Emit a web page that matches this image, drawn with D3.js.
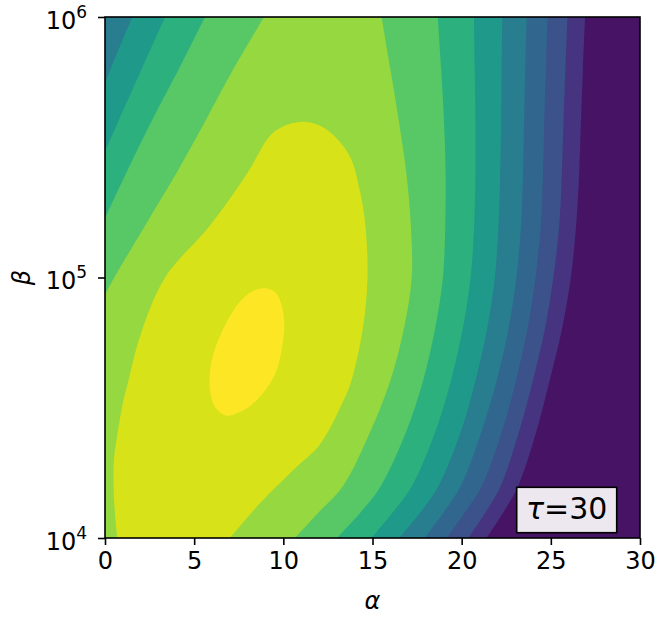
<!DOCTYPE html>
<html lang="en">

<head>
  <meta charset="UTF-8">
  <script src="https://cdn.jsdelivr.net/npm/d3@7"></script>
  <title>alpha / beta contour, tau=30</title>
  <style>
    body {
      margin: 0;
      background: #fff;
    }

    text {
      font-family: "DejaVu Sans", sans-serif;
      fill: #000;
    }
  </style>
</head>

<body>
  <div id="chart"></div>

  <script>
    /*------------------------- data -------------------------*/
    // rows (log10 beta) at which the right-hand contour lines were read
    const logBetaRows = [6.0, 5.8, 5.6, 5.4, 5.2, 5.0, 4.8, 4.6, 4.4, 4.2, 4.1, 4.0];

    // alpha of contour lines 1..8 on the right side, one value per row above
    const rightLines = [
      [26.92, 26.80, 26.69, 26.59, 26.42, 26.12, 25.62, 24.92, 24.15, 23.17, 22.35, 21.40],
      [25.93, 25.82, 25.71, 25.62, 25.47, 25.14, 24.66, 23.98, 23.18, 22.19, 21.35, 20.37],
      [24.82, 24.72, 24.63, 24.56, 24.44, 24.14, 23.68, 23.03, 22.22, 21.13, 20.20, 19.16],
      [23.65, 23.57, 23.50, 23.44, 23.33, 23.07, 22.62, 21.95, 21.07, 19.95, 19.00, 17.93],
      [22.28, 22.24, 22.21, 22.16, 22.06, 21.86, 21.42, 20.76, 19.91, 18.70, 17.70, 16.50],
      [20.69, 20.73, 20.77, 20.77, 20.70, 20.50, 20.05, 19.38, 18.48, 17.21, 16.15, 14.93],
      [18.66, 18.85, 19.01, 19.10, 19.08, 18.95, 18.50, 17.82, 16.84, 15.47, 14.35, 13.00],
      [15.51, 16.00, 16.48, 16.90, 17.15, 17.20, 16.75, 15.98, 14.82, 13.35, 12.00, 10.65]
    ];

    // contour lines 5..8 on the upper left, [alpha, log10 beta] from top edge to left edge
    const leftLines = [
      [[1.53, 6.0], [0.31, 5.8], [0, 5.745]],
      [[3.37, 6.0], [2.06, 5.8], [0.75, 5.6], [0, 5.485]],
      [[5.61, 6.0], [4.14, 5.8], [2.61, 5.6], [1.18, 5.4], [0, 5.227]],
      [[8.92, 6.0], [7.20, 5.8], [5.62, 5.6], [4.00, 5.4], [2.25, 5.2], [0.52, 5.0], [0, 4.935]]
    ];

    // contour line 9, [alpha, log10 beta], open along the bottom edge
    const line9 = [
      [0.69, 4.0], [0.55, 4.1], [0.48, 4.2], [0.50, 4.3], [0.70, 4.4], [1.00, 4.517],
      [1.30, 4.6], [1.96, 4.773], [3.37, 5.0], [5.89, 5.2], [7.98, 5.4], [9.07, 5.528],
      [9.63, 5.566], [10.47, 5.592], [11.22, 5.598], [11.96, 5.585], [12.80, 5.547],
      [13.74, 5.464], [14.30, 5.33], [14.60, 5.2], [14.72, 5.0], [14.45, 4.8], [13.80, 4.6],
      [13.30, 4.517], [12.06, 4.36], [10.56, 4.261], [8.69, 4.133], [7.0, 4.0]
    ];

    // contour line 10, closed
    const line10 = [
      [8.97, 4.959], [9.60, 4.94], [9.95, 4.88], [10.05, 4.82], [9.95, 4.74], [9.60, 4.64],
      [9.07, 4.575], [8.20, 4.51], [7.48, 4.482], [6.80, 4.47], [6.20, 4.50], [5.90, 4.56],
      [5.88, 4.63], [6.05, 4.70], [6.45, 4.775], [6.95, 4.845], [7.60, 4.91], [8.30, 4.948]
    ];

    // viridis position of each band, lowest band first
    const bandColorT = [0.05, 0.15, 0.25, 0.33, 0.42, 0.54, 0.64, 0.74, 0.84, 0.94, 1.0];

    const xTicks = [0, 5, 10, 15, 20, 25, 30];
    const yTicks = [1e4, 1e5, 1e6];
    const yTickExponents = ["4", "5", "6"];
    const tauText = "=30";

    /*------------------------ layout ------------------------*/
    const width = 665;
    const height = 620;
    const plot = { left: 105, right: 640, top: 17, bottom: 538 };

    const x = d3.scaleLinear()
      .domain([0, 30])
      .range([plot.left, plot.right]);
    const y = d3.scaleLog()
      .domain([1e4, 1e6])
      .range([plot.bottom, plot.top]);

    const svg = d3.select("#chart").append("svg")
      .attr("width", width)
      .attr("height", height);

    /*-------------------- contour regions -------------------*/
    const pt = d => [x(d[0]), y(Math.pow(10, d[1]))];
    const smooth = d3.line().curve(d3.curveCatmullRom.alpha(0.5));
    const smoothClosed = d3.line().curve(d3.curveCatmullRomClosed.alpha(0.5));
    const asLineTo = s => s.replace(/^M/, "L");

    // region at or above one level: optional upper-left line, left edge, bottom, right line, top
    const regionPath = (leftPts, rightPts) => {
      let d = leftPts ? smooth(leftPts.map(pt)) : `M${x(0)},${y(1e6)}`;
      d += `L${x(0)},${y(1e4)}`;
      d += asLineTo(smooth(rightPts.slice().reverse().map(pt)));
      return d + "Z";
    };

    const regions = rightLines.map((alphas, i) => {
      const rightPts = alphas.map((a, r) => [a, logBetaRows[r]]);
      const leftPts = i >= 4 ? leftLines[i - 4] : null;
      return regionPath(leftPts, rightPts);
    });
    regions.push(smooth(line9.map(pt)) + "Z");
    regions.push(smoothClosed(line10.map(pt)));

    svg.append("clipPath").attr("id", "plotClip")
      .append("rect")
      .attr("x", plot.left).attr("y", plot.top)
      .attr("width", plot.right - plot.left)
      .attr("height", plot.bottom - plot.top);

    const field = svg.append("g").attr("clip-path", "url(#plotClip)");

    field.append("rect")
      .attr("x", plot.left).attr("y", plot.top)
      .attr("width", plot.right - plot.left)
      .attr("height", plot.bottom - plot.top)
      .attr("fill", d3.interpolateViridis(bandColorT[0]));

    field.selectAll("path")
      .data(regions)
      .join("path")
      .attr("d", d => d)
      .attr("fill", (d, i) => d3.interpolateViridis(bandColorT[i + 1]));

    /*------------------------ axes --------------------------*/
    const xAxis = d3.axisBottom(x)
      .tickValues(xTicks)
      .tickSize(7)
      .tickPadding(7)
      .tickFormat(d3.format("d"));

    svg.append("g")
      .attr("transform", `translate(0,${plot.bottom})`)
      .call(xAxis)
      .call(g => g.select(".domain").remove())
      .call(g => g.selectAll(".tick line").attr("stroke", "#000").attr("stroke-width", 1.6))
      .attr("font-size", 24)
      .attr("font-family", "DejaVu Sans");

    const yAxis = d3.axisLeft(y)
      .tickValues(yTicks)
      .tickSize(7)
      .tickFormat("");

    svg.append("g")
      .attr("transform", `translate(${plot.left},0)`)
      .call(yAxis)
      .call(g => g.select(".domain").remove())
      .call(g => g.selectAll(".tick line").attr("stroke", "#000").attr("stroke-width", 1.6));

    // 10^k labels
    const yLabels = svg.append("g").selectAll("text")
      .data(yTicks)
      .join("text")
      .attr("x", 87)
      .attr("y", d => y(d) + 11.5)
      .attr("text-anchor", "end")
      .attr("font-size", 24);
    yLabels.append("tspan").text("10");
    yLabels.append("tspan")
      .attr("font-size", 17)
      .attr("dy", -11)
      .text(d => yTickExponents[yTicks.indexOf(d)]);

    // frame
    svg.append("rect")
      .attr("x", plot.left).attr("y", plot.top)
      .attr("width", plot.right - plot.left)
      .attr("height", plot.bottom - plot.top)
      .attr("fill", "none")
      .attr("stroke", "#000")
      .attr("stroke-width", 1.6);

    // axis titles
    svg.append("text")
      .attr("x", (plot.left + plot.right) / 2)
      .attr("y", 609)
      .attr("text-anchor", "middle")
      .attr("font-size", 24)
      .attr("font-style", "italic")
      .text("α");

    svg.append("text")
      .attr("transform", `translate(30,${(plot.top + plot.bottom) / 2}) rotate(-90)`)
      .attr("text-anchor", "middle")
      .attr("font-size", 24)
      .attr("font-style", "italic")
      .text("β");

    /*------------------------ tau box -----------------------*/
    const box = svg.append("g");
    box.append("rect")
      .attr("x", 516.7).attr("y", 487.3)
      .attr("width", 100).attr("height", 45.4)
      .attr("fill", "#fff")
      .attr("fill-opacity", 0.9)
      .attr("stroke", "#000")
      .attr("stroke-width", 1.6);
    const tau = box.append("text")
      .attr("x", 566.7)
      .attr("y", 518.5)
      .attr("text-anchor", "middle")
      .attr("font-size", 30);
    tau.append("tspan").attr("font-style", "italic").text("τ");
    tau.append("tspan").text(tauText);
  </script>
</body>

</html>
